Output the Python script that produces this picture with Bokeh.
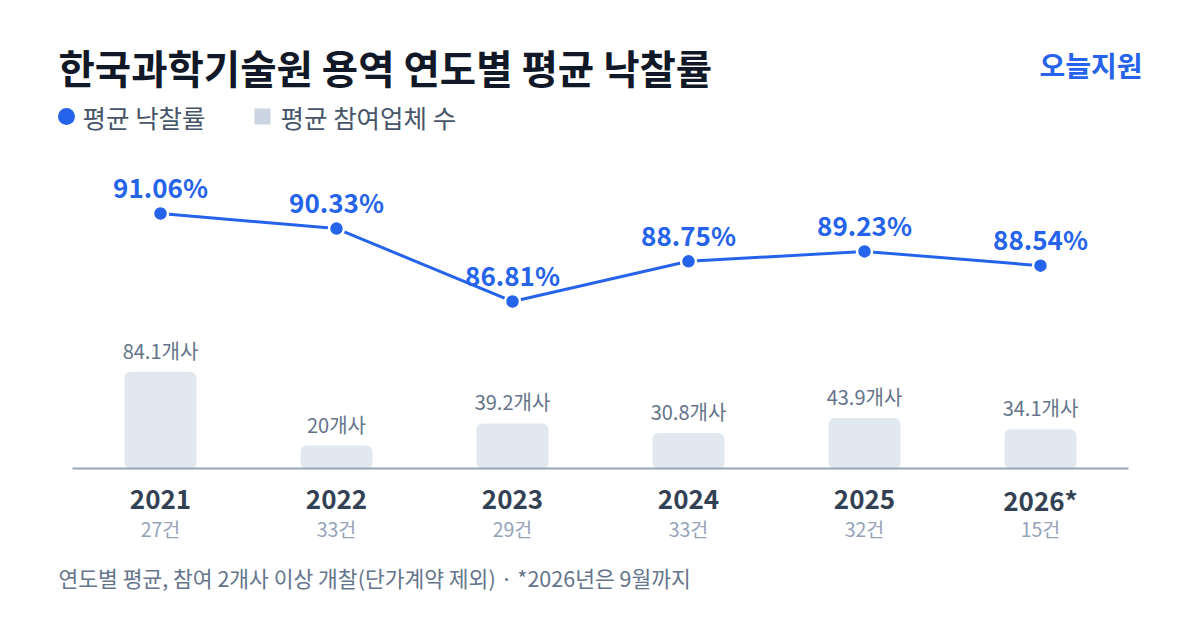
from bokeh.core.properties import value
from bokeh.embed import file_html
from bokeh.models import ColumnDataSource, Range1d
from bokeh.plotting import figure
from bokeh.resources import INLINE

# ------------------------------------------------------------
# data
# ------------------------------------------------------------
years = ["2021", "2022", "2023", "2024", "2025", "2026*"]
counts = ["27건", "33건", "29건", "33건", "32건", "15건"]
avg_rate = [91.06, 90.33, 86.81, 88.75, 89.23, 88.54]
avg_bidders = [84.1, 20, 39.2, 30.8, 43.9, 34.1]

title = "한국과학기술원 용역 연도별 평균 낙찰률"
brand = "오늘지원"
legend_labels = ["평균 낙찰률", "평균 참여업체 수"]
footnote = "연도별 평균, 참여 2개사 이상 개찰(단가계약 제외) · *2026년은 9월까지"

FONT = "Noto Sans CJK KR"
BLUE = "#2563eb"

W, H = 1184, 614

# pixel -> data helpers (only for titles / legend placement)
def px(x):
    return (x - 160) / 176


def py(y):
    return (468 - y) / 1.15


x = list(range(len(years)))
src = ColumnDataSource(dict(
    x=x,
    year=years,
    cnt=counts,
    rate=avg_rate,
    bidders=avg_bidders,
    rate_lbl=[f"{v:.2f}%" for v in avg_rate],
    bid_lbl=[f"{v:g}개사" for v in avg_bidders],
))

p = figure(width=W, height=H, output_backend="svg", toolbar_location=None,
           x_range=Range1d(px(0), px(W)), y_range=Range1d(py(H), py(0)),
           min_border=0, x_axis_location=None, y_axis_location=None)
p.outline_line_color = None
p.grid.visible = False
p.background_fill_color = "white"
p.border_fill_color = "white"

# second scale for the rate line
p.extra_y_ranges = {"rate": Range1d(91.06 - (H - 213) / 20.7, 91.06 + 213 / 20.7)}

# bars
p.vbar(x="x", top="bidders", bottom=0, width=72 / 176, source=src,
       fill_color="#e2e8f0", line_color=None, border_radius=6)
p.text(x="x", y="bidders", text="bid_lbl", source=src, y_offset=-7,
       text_align="center", text_baseline="bottom", text_color="#64748b",
       text_font=value(FONT), text_font_size="20px")

# baseline
p.segment(x0=-0.5, x1=len(years) - 0.5, y0=0, y1=0, line_color="#94a3b8", line_width=2)

# line + points
p.line(x="x", y="rate", source=src, y_range_name="rate", line_color=BLUE, line_width=3)
p.scatter(x="x", y="rate", source=src, y_range_name="rate", size=15,
          fill_color=BLUE, line_color="white", line_width=2.5)
p.text(x="x", y="rate", text="rate_lbl", source=src, y_range_name="rate", y_offset=-27,
       text_align="center", text_baseline="middle", text_color=BLUE,
       text_font=value(FONT), text_font_size="26px", text_font_style="bold")

# x labels
p.text(x="x", y=py(499), text="year", source=src, text_align="center",
       text_baseline="middle", text_color="#334155", text_font=value(FONT),
       text_font_size="26px", text_font_style="bold")
p.text(x="x", y=py(528), text="cnt", source=src, text_align="center",
       text_baseline="middle", text_color="#94a3b8", text_font=value(FONT),
       text_font_size="19.5px")

# title / brand
p.text(x=[px(58)], y=[py(66)], text=[title], text_baseline="middle", text_color="#111827",
       text_font=value(FONT), text_font_size="39.5px", text_font_style="bold")
p.text(x=[px(1142)], y=[py(64)], text=[brand], text_align="right", text_baseline="middle",
       text_color=BLUE, text_font=value(FONT), text_font_size="28px", text_font_style="bold")

# legend
p.scatter(x=[px(66)], y=[py(116)], size=17, marker="circle", fill_color=BLUE, line_color=None)
p.scatter(x=[px(262)], y=[py(116)], size=16, marker="square", fill_color="#cbd5e1", line_color=None)
p.text(x=[px(82), px(280)], y=[py(116), py(116)], text=legend_labels, text_baseline="middle",
       text_color="#475569", text_font=value(FONT), text_font_size="25.5px")

# footnote
p.text(x=[px(58)], y=[py(577)], text=[footnote], text_baseline="middle", text_color="#64748b",
       text_font=value(FONT), text_font_size="21.5px")

open("out.html", "w").write(file_html(p, INLINE))
